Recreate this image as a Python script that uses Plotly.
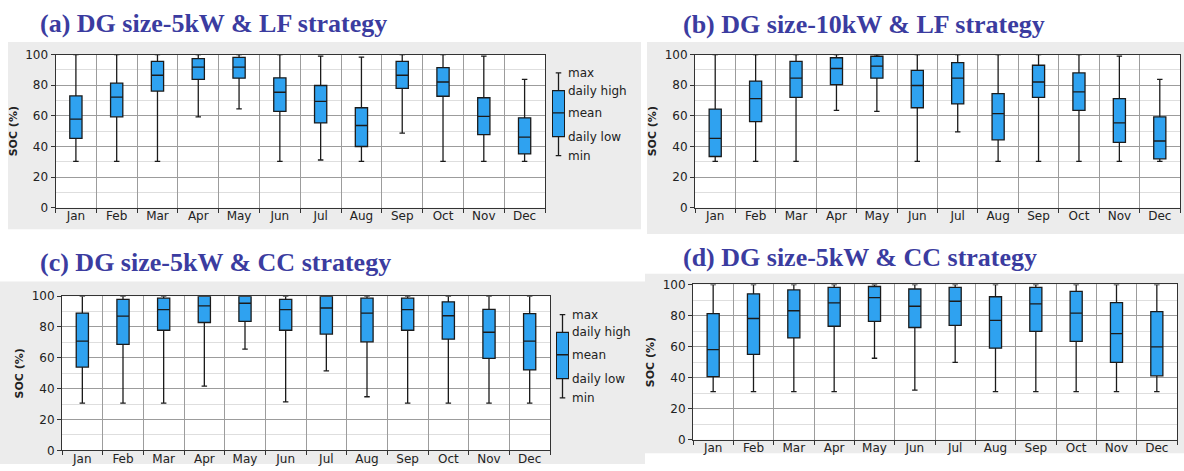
import plotly.graph_objects as go

months = ["Jan", "Feb", "Mar", "Apr", "May", "Jun", "Jul", "Aug", "Sep", "Oct", "Nov", "Dec"]

# (a) DG 5kW, LF strategy
a_max = [100, 100, 100, 100, 100, 100, 99, 98.3, 100, 100, 99, 83.8]
a_high = [73, 81.3, 95.6, 97.3, 98.1, 84.8, 79.8, 65.3, 95.6, 91.4, 71.8, 58.7]
a_mean = [57.9, 72.2, 86.5, 91.8, 91.8, 75.4, 69.5, 53.7, 86.5, 82.1, 59.6, 46.1]
a_low = [45.3, 59.4, 76.2, 83.8, 84.6, 62.9, 55.4, 40, 77.9, 72.8, 47.8, 35.2]
a_min = [30.3, 30.3, 30.3, 59.4, 64.6, 30.3, 31.2, 30.3, 48.8, 30.3, 30.3, 30.3]

# (b) DG 10kW, LF strategy
b_max = [100, 100, 100, 100, 100, 100, 100, 100, 100, 100, 99, 83.8]
b_high = [64.4, 82.7, 95.6, 97.9, 98.9, 89.7, 94.7, 74.5, 93, 88, 71.2, 59.4]
b_mean = [45.3, 71.2, 84.6, 90.9, 92.4, 79.8, 84.6, 61.5, 82.1, 75.6, 55.4, 43.6]
b_low = [33.5, 56.2, 72, 80.4, 84.6, 65.3, 67.8, 44.4, 72, 63.6, 42.7, 32]
b_min = [30.3, 30.3, 30.3, 63.6, 62.9, 30.3, 49.5, 30.3, 30.3, 30.3, 30.3, 30.3]

# (c) DG 5kW, CC strategy
c_max = [100, 100, 100, 100, 100, 100, 100, 100, 100, 100, 100, 100]
c_high = [89, 97.9, 98.7, 99.8, 99.8, 97.9, 99.8, 98.7, 98.7, 96.3, 91.4, 88.7]
c_mean = [70.8, 87.1, 91.3, 93.7, 95.4, 91.3, 92.3, 89, 91.3, 87.3, 76.6, 70.8]
c_low = [54, 68.7, 77.9, 82.9, 83.7, 77.9, 75.4, 70.4, 77.9, 72.1, 59.7, 52.2]
c_min = [30.6, 30.6, 30.6, 41.7, 65.6, 31.5, 51.5, 34.8, 30.6, 30.6, 30.7, 30.7]

# (d) DG 5kW, CC strategy
d_max = [100, 100, 100, 100, 100, 100, 100, 100, 100, 100, 100, 100]
d_high = [81.2, 94, 96.5, 98.1, 98.7, 97.1, 98.1, 92.1, 98.1, 95.6, 88.3, 82.5]
d_mean = [58.1, 78.1, 83.1, 88.1, 91.5, 86, 89.2, 76.9, 87.5, 81.5, 68.3, 59.8]
d_low = [40.6, 55, 65.6, 73.1, 76.2, 72.3, 73.7, 59, 69.8, 63.3, 49.8, 41.2]
d_min = [31, 31, 31, 31, 52.5, 31.9, 49.8, 31, 31, 31, 31, 31]

# legend key glyph (min, daily low, mean, daily high, max)
key_values = [34, 46.5, 62, 76.5, 88]
key_labels = ["min", "daily low", "mean", "daily high", "max"]

titles = ["(a) DG size-5kW &amp; LF strategy",
          "(b) DG size-10kW &amp; LF strategy",
          "(c) DG size-5kW &amp; CC strategy",
          "(d) DG size-5kW &amp; CC strategy"]

W, H = 1184, 471
BOX = "#2FA2F0"
LINE = "#1b1b1b"
GRID = "#9c9c9c"
MINOR = "#dedede"
TXT = "#222222"
TITLE_C = "#3B3CA0"
FONT = "DejaVu Sans"


def fx(p):
    return p / W


def fy(p):
    return 1 - p / H


panels = [
    dict(data=(a_min, a_low, a_mean, a_high, a_max), x0=55.5, x1=545, y0=49, y1=207,
         tx=38, ty=17, legend=(552, 565, 566)),
    dict(data=(b_min, b_low, b_mean, b_high, b_max), x0=695, x1=1180, y0=49, y1=207,
         tx=681, ty=18, legend=None),
    dict(data=(c_min, c_low, c_mean, c_high, c_max), x0=62, x1=550, y0=298, y1=457,
         tx=38, ty=263, legend=(556, 569, 570)),
    dict(data=(d_min, d_low, d_mean, d_high, d_max), x0=693, x1=1177, y0=286, y1=446,
         tx=681, ty=258, legend=None),
]

fig = go.Figure()
layout = dict(
    width=W, height=H, margin=dict(l=0, r=0, t=0, b=0),
    paper_bgcolor="white", plot_bgcolor="rgba(0,0,0,0)",
    showlegend=False, font=dict(family=FONT, size=12, color=TXT),
)
shapes = []
annotations = []

# grey screenshot backgrounds
for (gx0, gy0, gx1, gy1) in [(8, 36, 641, 229), (647, 36, 1184, 234),
                             (0, 283, 645, 471), (645, 275, 1184, 460)]:
    shapes.append(dict(type="rect", xref="paper", yref="paper", layer="below",
                       x0=fx(gx0), x1=fx(gx1), y0=fy(gy1), y1=fy(gy0),
                       fillcolor="#ECECEC", line=dict(width=0)))

leg_idx = 5
for i, p in enumerate(panels, start=1):
    xa = "x" if i == 1 else f"x{i}"
    ya = "y" if i == 1 else f"y{i}"
    mn, lo, me, hi, mx = p["data"]
    fig.add_trace(go.Box(
        x=months, q1=lo, median=me, q3=hi, lowerfence=mn, upperfence=mx,
        xaxis=xa, yaxis=ya, fillcolor=BOX, line=dict(color=LINE, width=1.3),
        width=0.3, whiskerwidth=0.45, boxpoints=False, hoverinfo="skip",
        showlegend=False))
    # white plot area
    shapes.append(dict(type="rect", xref="paper", yref="paper", layer="below",
                       x0=fx(p["x0"]), x1=fx(p["x1"]), y0=fy(p["y1"]), y1=fy(p["y0"]),
                       fillcolor="white", line=dict(width=0)))
    layout[f"xaxis{i}"] = dict(
        domain=[fx(p["x0"]), fx(p["x1"])], anchor=ya, type="category",
        tickson="boundaries", ticks="outside", ticklen=4, tickcolor="#333",
        ticklabelstandoff=-3,
        showgrid=True, gridcolor=GRID, gridwidth=1,
        showline=True, mirror=True, linecolor="#333", linewidth=1,
        tickfont=dict(family=FONT, size=12, color=TXT), range=[-0.5, 11.5],
        fixedrange=True)
    layout[f"yaxis{i}"] = dict(
        domain=[fy(p["y1"]), fy(p["y0"])], anchor=xa, range=[0, 100],
        tick0=0, dtick=20, ticks="outside", ticklen=4, tickcolor="#333",
        showgrid=True, gridcolor=GRID, gridwidth=1, zeroline=False,
        minor=dict(dtick=10, showgrid=True, gridcolor=MINOR, gridwidth=1),
        showline=True, mirror=True, linecolor="#333", linewidth=1,
        tickfont=dict(family=FONT, size=12, color=TXT),
        title=dict(text="<b>SOC (%)</b>", font=dict(family=FONT, size=11, color=TXT),
                   standoff=5),
        fixedrange=True)
    annotations.append(dict(
        xref="paper", yref="paper", x=fx(p["tx"]), y=fy(p["ty"]),
        xanchor="left", yanchor="middle", showarrow=False,
        text=f"<b>{titles[i - 1]}</b>",
        font=dict(family="Liberation Serif", size=26, color=TITLE_C)))

    if p["legend"]:
        lx0, lx1, ltx = p["legend"]
        lxa = f"x{leg_idx}"
        lya = f"y{leg_idx}"
        fig.add_trace(go.Box(
            x=[0], lowerfence=[key_values[0]], q1=[key_values[1]],
            median=[key_values[2]], q3=[key_values[3]], upperfence=[key_values[4]],
            xaxis=lxa, yaxis=lya, fillcolor=BOX, line=dict(color=LINE, width=1.3),
            width=0.95, whiskerwidth=0.45, boxpoints=False, hoverinfo="skip",
            showlegend=False))
        layout[f"xaxis{leg_idx}"] = dict(
            domain=[fx(lx0), fx(lx1)], anchor=lya, range=[-0.5, 0.5],
            visible=False, fixedrange=True)
        layout[f"yaxis{leg_idx}"] = dict(
            domain=[fy(p["y1"]), fy(p["y0"])], anchor=lxa, range=[0, 100],
            visible=False, fixedrange=True)
        for v, lab in zip(key_values, key_labels):
            annotations.append(dict(
                xref="paper", yref=lya, x=fx(ltx), y=v, xanchor="left",
                yanchor="middle", showarrow=False, text=lab,
                font=dict(family=FONT, size=12, color=TXT)))
        leg_idx += 1

layout["shapes"] = shapes
layout["annotations"] = annotations
fig.update_layout(**layout)
fig.write_html("out.html", config={"displayModeBar": False},
               post_script="document.body.style.margin='0';document.body.style.overflow='hidden';")
